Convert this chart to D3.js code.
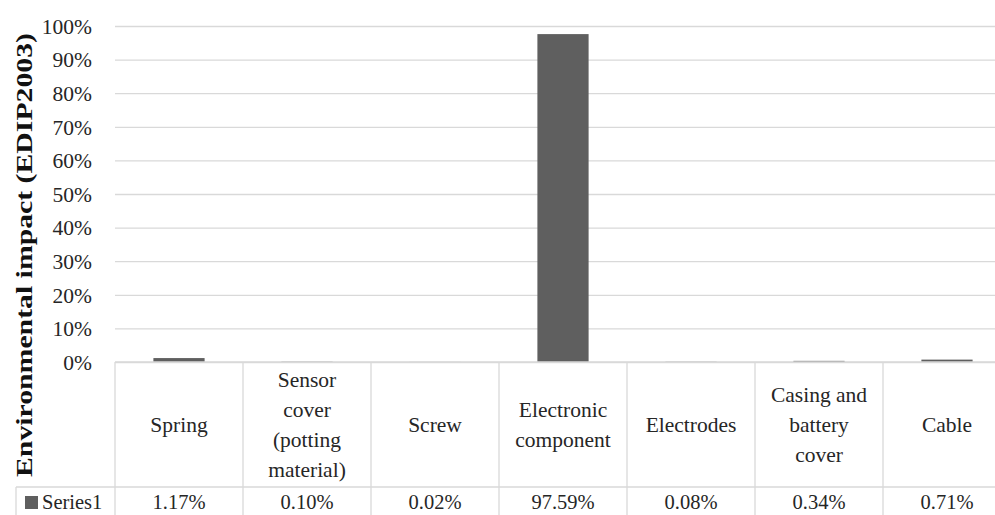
<!DOCTYPE html>
<html>
<head>
<meta charset="utf-8">
<script src="https://cdn.jsdelivr.net/npm/d3@7"></script>
<style>
  html, body { margin: 0; padding: 0; background: #fff; overflow: hidden; }
  svg { display: block; }
  text { font-family: "Liberation Serif", "Times New Roman", serif; fill: #262626; }
</style>
</head>
<body>
<svg id="chart" width="995" height="515"></svg>
<script>
// Components and their share of the total environmental impact
const categories = [
  ["Spring"],
  ["Sensor", "cover", "(potting", "material)"],
  ["Screw"],
  ["Electronic", "component"],
  ["Electrodes"],
  ["Casing and", "battery", "cover"],
  ["Cable"]
];
const seriesName = "Series1";
const values = [1.17, 0.10, 0.02, 97.59, 0.08, 0.34, 0.71];
const valueLabels = ["1.17%", "0.10%", "0.02%", "97.59%", "0.08%", "0.34%", "0.71%"];
const yTicks = [0, 10, 20, 30, 40, 50, 60, 70, 80, 90, 100];
const yTitle = "Environmental impact (EDIP2003)";

const svg = d3.select("#chart");
const gridColor = "#d9d9d9";
const barColor = "#5f5f5f";
const fontSize = 21.5;

const plotLeft = 115, plotRight = 1011, plotTop = 26, plotBottom = 362;
const tableRowY = 487, tableBottom = 530, tableLeft = 16;

const keys = d3.range(values.length);
const x = d3.scaleBand().domain(keys).range([plotLeft, plotRight]).paddingInner(0.6).paddingOuter(0.3);
const xCell = d3.scaleBand().domain(keys).range([plotLeft, plotRight]);
const y = d3.scaleLinear().domain([0, 100]).range([plotBottom, plotTop]);

// Horizontal gridlines and percentage labels
const yAxis = d3.axisLeft(y).tickValues(yTicks).tickSize(-(plotRight - plotLeft)).tickFormat(d => d + "%");
const gy = svg.append("g").attr("transform", `translate(${plotLeft},0)`).call(yAxis);
gy.select(".domain").remove();
gy.selectAll(".tick line").attr("stroke", gridColor).attr("stroke-width", 1.3);
gy.selectAll(".tick text")
  .attr("font-size", fontSize)
  .attr("x", -23)
  .attr("dy", "0.34em");

// Bars
svg.append("g").selectAll("rect")
  .data(keys)
  .join("rect")
  .attr("x", i => x(i))
  .attr("width", x.bandwidth())
  .attr("y", i => y(values[i]))
  .attr("height", i => Math.max(y(0) - y(values[i]), 0))
  .attr("fill", barColor);

// Data table grid
const table = svg.append("g").attr("stroke", gridColor).attr("stroke-width", 1.3);
table.append("line").attr("x1", plotLeft).attr("x2", plotRight).attr("y1", plotBottom).attr("y2", plotBottom);
table.append("line").attr("x1", tableLeft).attr("x2", plotRight).attr("y1", tableRowY).attr("y2", tableRowY);
table.append("line").attr("x1", tableLeft).attr("x2", tableLeft).attr("y1", tableRowY).attr("y2", tableBottom);
table.selectAll("line.v")
  .data(keys.concat([values.length]))
  .join("line")
  .attr("class", "v")
  .attr("x1", i => i < values.length ? xCell(i) : plotRight)
  .attr("x2", i => i < values.length ? xCell(i) : plotRight)
  .attr("y1", plotBottom)
  .attr("y2", tableBottom);

// Category names, vertically centred in their cells
const lineH = 30;
const headMid = (plotBottom + tableRowY) / 2;
const heads = svg.append("g").attr("font-size", fontSize).attr("text-anchor", "middle");
keys.forEach(i => {
  const lines = categories[i];
  const cx = xCell(i) + xCell.bandwidth() / 2;
  const t = heads.append("text")
    .attr("x", cx)
    .attr("y", headMid - (lines.length - 1) * lineH / 2 + 7);
  lines.forEach((ln, k) => {
    t.append("tspan")
      .attr("x", cx)
      .attr("dy", k === 0 ? 0 : lineH)
      .text(ln);
  });
});

// Value row
const rowBase = 509;
const rowFont = 20.5;
svg.append("g").attr("font-size", rowFont).attr("text-anchor", "middle")
  .selectAll("text")
  .data(keys)
  .join("text")
  .attr("x", i => xCell(i) + xCell.bandwidth() / 2)
  .attr("y", rowBase)
  .text(i => valueLabels[i]);

// Legend key for the series row
svg.append("rect").attr("x", 25).attr("y", 496).attr("width", 13).attr("height", 13).attr("fill", barColor);
svg.append("text").attr("x", 42).attr("y", rowBase).attr("font-size", rowFont).text(seriesName);

// Vertical axis title
svg.append("text")
  .attr("transform", `translate(32, 255) rotate(-90)`)
  .attr("text-anchor", "middle")
  .attr("font-size", 24)
  .attr("font-weight", "bold")
  .attr("textLength", 444)
  .attr("lengthAdjust", "spacingAndGlyphs")
  .style("fill", "#111")
  .text(yTitle);
</script>
</body>
</html>
